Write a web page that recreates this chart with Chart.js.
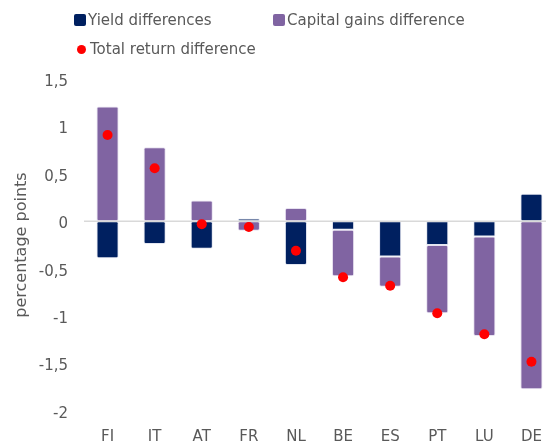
<!DOCTYPE html>
<html>
<head>
<meta charset="utf-8">
<script src="https://cdn.jsdelivr.net/npm/chart.js@4"></script>
<style>
    html, body { margin: 0; padding: 0; background: #fff; overflow: hidden; }
    #wrap { position: relative; width: 546px; height: 443px; overflow: hidden; }
    #chart { position: absolute; left: 0; top: 0; }
    #legend { position: absolute; left: 0; top: 0; font-family: "DejaVu Sans", sans-serif; font-size: 15px; color: #595959; }
    .item { position: absolute; white-space: nowrap; line-height: 18px; }
    .box { position: absolute; width: 12px; height: 12px; border-radius: 2px; }
    .dot { position: absolute; width: 9px; height: 9px; border-radius: 50%; }
</style>
</head>
<body>
<div id="wrap">
    <canvas id="chart" width="560" height="443"></canvas>
    <div id="legend"></div>
</div>
<script>
// Data
const categories = ["FI", "IT", "AT", "FR", "NL", "BE", "ES", "PT", "LU", "DE"];
const yieldDiff = [-0.39, -0.24, -0.29, 0.03, -0.46, -0.09, -0.37, -0.25, -0.16, 0.29];
const capitalGains = [1.21, 0.78, 0.22, -0.10, 0.14, -0.49, -0.32, -0.72, -1.05, -1.77];
const totalReturn = [0.91, 0.56, -0.03, -0.06, -0.31, -0.59, -0.68, -0.97, -1.19, -1.48];
const yTicks = [-2, -1.5, -1, -0.5, 0, 0.5, 1, 1.5];
const seriesNames = ["Yield differences", "Capital gains difference", "Total return difference"];

const navy = "#002060";
const purple = "#8064a2";
const red = "#ff0000";
const grey = "#595959";

// Legend (HTML, laid out like the original)
const legend = document.getElementById("legend");
const legendItems = [
    { name: seriesNames[0], color: navy, shape: "box", x: 74, y: 11 },
    { name: seriesNames[1], color: purple, shape: "box", x: 273, y: 11 },
    { name: seriesNames[2], color: red, shape: "dot", x: 77, y: 40 }
];
legendItems.forEach(it => {
    const el = document.createElement("div");
    el.className = "item";
    el.style.left = it.x + "px";
    el.style.top = it.y + "px";
    const mark = document.createElement("span");
    mark.className = it.shape;
    mark.style.background = it.color;
    mark.style.left = "0px";
    mark.style.top = it.shape === "box" ? "3px" : "5px";
    const txt = document.createElement("span");
    txt.textContent = it.name;
    txt.style.paddingLeft = it.shape === "box" ? "14px" : "13px";
    el.appendChild(mark);
    el.appendChild(txt);
    legend.appendChild(el);
});

// Zero line between the bars and the dots
const zeroLine = {
    id: "zeroLine",
    beforeDatasetDraw(chart, args) {
        if (args.index !== 2) return;
        const { ctx, chartArea, scales } = chart;
        const y = scales.y.getPixelForValue(0);
        ctx.save();
        ctx.strokeStyle = "#d9d9d9";
        ctx.lineWidth = 1.5;
        ctx.beginPath();
        ctx.moveTo(chartArea.left, y);
        ctx.lineTo(chartArea.right, y);
        ctx.stroke();
        ctx.restore();
    }
};

Chart.defaults.font.family = "'DejaVu Sans', sans-serif";
Chart.defaults.font.size = 15;
Chart.defaults.color = grey;

const ctx = document.getElementById("chart").getContext("2d");
new Chart(ctx, {
    type: "bar",
    data: {
        labels: categories,
        datasets: [
            {
                label: seriesNames[0],
                data: yieldDiff,
                backgroundColor: navy,
                borderColor: "rgba(200,205,225,0.5)",
                borderWidth: 1,
                borderRadius: 2,
                borderSkipped: false,
                stack: "bars",
                order: 1
            },
            {
                label: seriesNames[1],
                data: capitalGains,
                backgroundColor: purple,
                borderColor: "rgba(215,205,230,0.6)",
                borderWidth: 1,
                borderRadius: 2,
                borderSkipped: false,
                stack: "bars",
                order: 1
            },
            {
                type: "line",
                label: seriesNames[2],
                data: totalReturn,
                showLine: false,
                pointRadius: 5,
                pointBackgroundColor: red,
                pointBorderColor: red,
                pointBorderWidth: 0,
                stack: "total",
                order: 0
            }
        ]
    },
    options: {
        responsive: false,
        animation: false,
        barPercentage: 0.47,
        categoryPercentage: 1,
        layout: { padding: { top: 79, right: 5, bottom: 0, left: 0 } },
        plugins: {
            legend: { display: false },
            tooltip: { enabled: false }
        },
        scales: {
            x: {
                stacked: true,
                grid: { display: false, drawTicks: false },
                border: { display: false },
                ticks: { padding: 17, color: grey, font: { size: 15 } },
                afterFit: axis => { axis.height = 32; }
            },
            y: {
                stacked: true,
                min: -2,
                max: 1.5,
                afterBuildTicks: axis => { axis.ticks = yTicks.map(v => ({ value: v })); },
                afterFit: axis => { axis.width = 84; },
                grid: { display: false, drawTicks: false },
                border: { display: false },
                ticks: {
                    padding: 16,
                    labelOffset: 3,
                    color: grey,
                    font: { size: 15 },
                    callback: v => String(v).replace(".", ",")
                },
                title: {
                    display: true,
                    text: "percentage points",
                    color: grey,
                    font: { size: 16 },
                    padding: { top: 12, bottom: 6 }
                }
            }
        }
    },
    plugins: [zeroLine]
});
</script>
</body>
</html>
